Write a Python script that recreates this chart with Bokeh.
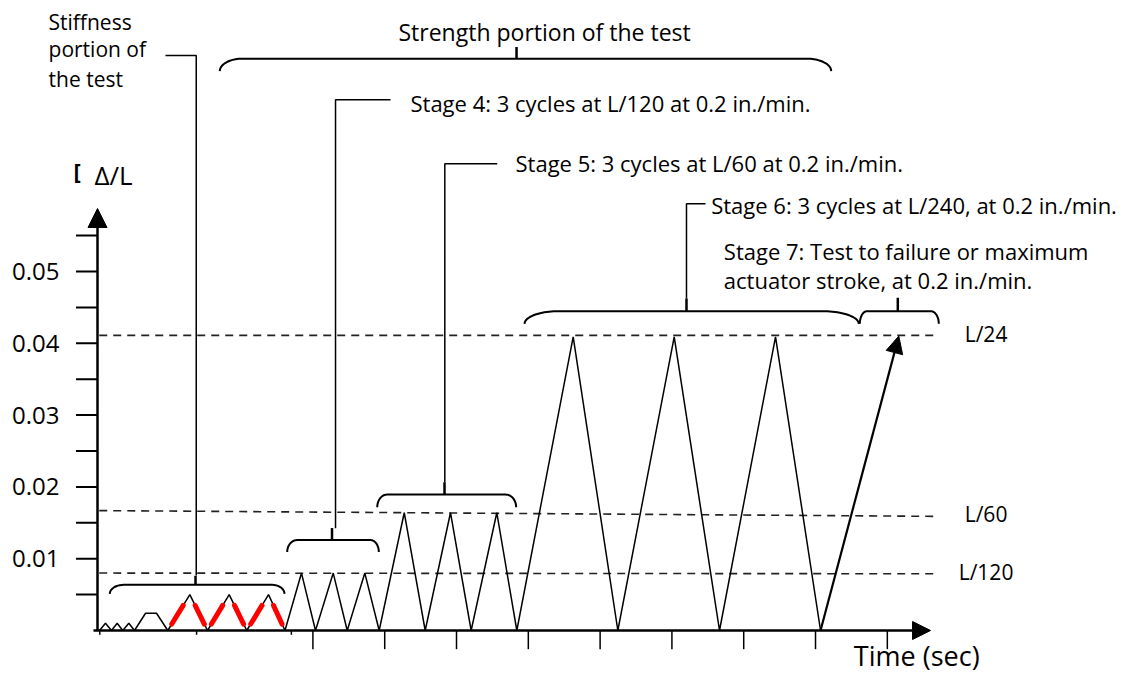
import numpy as np
from bokeh.plotting import figure
from bokeh.models import Range1d, Arrow, NormalHead
from bokeh.core.properties import value
from bokeh.embed import file_html
from bokeh.resources import INLINE

# ---------------- data: load history (time in tick units, drift ratio) -------------
time = [0.028, 0.111, 0.195, 0.274, 0.352, 0.436, 0.515, 0.669, 0.822, 0.979,
        1.286, 1.532, 1.834, 2.079, 2.382, 2.611,
        2.841, 3.036, 3.283, 3.478, 3.723, 3.923,
        4.272, 4.564, 4.916, 5.204, 5.561, 5.840,
        6.625, 7.247, 8.032, 8.663, 9.443, 10.070]
drift = [0, 0.001, 0, 0.001, 0, 0.001, 0, 0.0024, 0.0024, 0,
         0.005, 0, 0.005, 0, 0.005, 0,
         0.008, 0, 0.008, 0, 0.008, 0,
         0.0164, 0, 0.0164, 0, 0.0164, 0,
         0.0409, 0, 0.0409, 0, 0.0409, 0]
stage7_time = [10.070, 11.160]
stage7_drift = [0.0, 0.0410]

# stiffness cycles (highlighted legs) : indices in the arrays above
stiff_first, stiff_last = 9, 15
red_lo, red_hi = 0.0009, 0.0035

# reference drift levels
ref_labels = ["L/24", "L/60", "L/120"]
ref_left = [0.0411, 0.0167, 0.0080]
ref_right = [0.0411, 0.0159, 0.0079]
ref_end = [11.695, 11.643, 11.713]
ref_label_y = [0.04132, 0.01625, 0.00812]

# axis ticks
y_major = [0.01, 0.02, 0.03, 0.04, 0.05]
y_major_labels = ["0.01", "0.02", "0.03", "0.04", "0.05"]
y_minor = [0.005, 0.015, 0.025, 0.035, 0.045, 0.055]
x_major = [3, 4, 5, 6, 7, 8, 9, 10, 11]
x_small = [0.032, 1.38, 2.70]

# braces: start, end, level, centre tick
brace_x0 = [0.171, 2.642, 3.896, 5.947, 10.617, 1.703]
brace_x1 = [2.604, 3.918, 5.831, 10.603, 11.717, 10.219]
brace_y = [0.00636, 0.0126, 0.01894, 0.04447, 0.04447, 0.07963]
brace_xc = [1.365, 3.266, 4.833, 8.203, 11.146, 5.836]
brace_drop = [0.00125, 0.00167, 0.00177, 0.00176, 0.00176, 0.00173]
brace_wl = [0.195, 0.139, 0.139, 0.474, 0.10, 0.306]
brace_wr = [0.171, 0.116, 0.149, 0.51, 0.11, 0.334]
brace_tick = [0.00125, 0.00167, 0.00171, 0.00177, 0.00187, 0.00162]

# leader lines
leader_xs = [[0.947, 1.375, 1.375], [4.081, 3.315, 3.315],
             [5.567, 4.837, 4.837], [8.468, 8.203, 8.203]]
leader_ys = [[0.08008, 0.08008, 0.00766], [0.07391, 0.07391, 0.01425],
             [0.065, 0.065, 0.02065], [0.05943, 0.05943, 0.04624]]

# annotation texts
side_text = ["Stiffness", "portion of", "the test"]
side_x = [-0.682, -0.682, -0.682]
side_y = [0.08472, 0.08092, 0.07674]
note_text = ["Stage 4: 3 cycles at L/120 at 0.2 in./min.",
             "Stage 5: 3 cycles at L/60 at 0.2 in./min.",
             "Stage 6: 3 cycles at L/240, at 0.2 in./min.",
             "Stage 7: Test to failure or maximum",
             "actuator stroke, at 0.2 in./min."]
note_x = [4.359, 5.822, 8.547, 8.723, 8.723]
note_y = [0.07347, 0.06504, 0.05926, 0.05288, 0.04882]
title_text = "Strength portion of the test"
xlabel_text = "Time (sec)"
ylabel_text = "\u0394/L"

FONT = value("Open Sans")

p = figure(width=1128, height=678, output_backend="svg", toolbar_location=None,
           x_range=Range1d(-1.351, 14.359), y_range=Range1d(-0.006685, 0.08774),
           x_axis_location=None, y_axis_location=None, min_border=0,
           background_fill_color="white", border_fill_color="white")
p.outline_line_color = None
p.grid.visible = False

# reference dashed lines
p.segment(x0=[0.024] * 3, y0=ref_left, x1=ref_end, y1=ref_right,
          line_color="#222222", line_width=1.6, line_dash="8 6")
p.text(x=[12.375] * 3, y=ref_label_y, text=ref_labels, text_font=FONT,
       text_font_size=value("21px"), text_align="center",
       text_baseline="middle", text_color="black")

# waveform
p.line(time, drift, line_color="black", line_width=1.5)

# red highlighted parts of the stiffness cycles
red_xs, red_ys = [], []
for i in range(stiff_first, stiff_last):
    xa, ya, xb, yb = time[i], drift[i], time[i + 1], drift[i + 1]
    ta = (red_lo - ya) / (yb - ya)
    tb = (red_hi - ya) / (yb - ya)
    red_xs.append([xa + ta * (xb - xa), xa + tb * (xb - xa)])
    red_ys.append([red_lo, red_hi])
p.multi_line(red_xs, red_ys, line_color="#ff0000", line_width=5, line_cap="round")

# stage 7 arrow
p.add_layout(Arrow(x_start=stage7_time[0], y_start=stage7_drift[0],
                   x_end=stage7_time[1], y_end=stage7_drift[1],
                   line_width=2.2, line_color="black",
                   end=NormalHead(size=17, fill_color="black", line_color="black")))

# axes
p.add_layout(Arrow(x_start=0, y_start=0, x_end=0, y_end=0.05877,
                   line_width=2.5, line_color="black",
                   end=NormalHead(size=19, fill_color="black", line_color="black")))
p.add_layout(Arrow(x_start=-0.056, y_start=0, x_end=11.602, y_end=0,
                   line_width=2.5, line_color="black",
                   end=NormalHead(size=18, fill_color="black", line_color="black")))
yt = y_major + y_minor
p.segment(x0=[-0.30] * len(yt), y0=yt, x1=[0] * len(yt), y1=yt,
          line_color="black", line_width=2)
p.text(x=[-0.529] * len(y_major), y=y_major, text=y_major_labels, text_font=FONT,
       text_font_size=value("24px"), text_align="right", text_baseline="middle",
       text_color="black")
p.segment(x0=x_major, y0=[0] * len(x_major), x1=x_major, y1=[-0.0026] * len(x_major),
          line_color="black", line_width=1.5)
p.segment(x0=x_small, y0=[0] * len(x_small), x1=x_small, y1=[-0.0006] * len(x_small),
          line_color="black", line_width=1.5)

# braces
bxs, bys = [], []
t = np.linspace(0, np.pi / 2, 12)
for x0, x1, y, d, wl, wr in zip(brace_x0, brace_x1, brace_y, brace_drop, brace_wl, brace_wr):
    lx = x0 + wl - wl * np.cos(t)
    ly = y - d + d * np.sin(t)
    rx = x1 - wr + wr * np.cos(t[::-1])
    ry = y - d + d * np.sin(t[::-1])
    bxs.append(list(lx) + list(rx))
    bys.append(list(ly) + list(ry))
p.multi_line(bxs, bys, line_color="black", line_width=2)
p.segment(x0=brace_xc, y0=brace_y, x1=brace_xc,
          y1=[y + h for y, h in zip(brace_y, brace_tick)],
          line_color="black", line_width=2.5)

# leaders
p.multi_line(leader_xs, leader_ys, line_color="black", line_width=1.5)

# texts
p.text(x=side_x, y=side_y, text=side_text, text_font=FONT,
       text_font_size=value("21px"), text_align="left",
       text_baseline="middle", text_color="black")
p.text(x=note_x, y=note_y, text=note_text, text_font=FONT,
       text_font_size=value("22px"), text_align="left",
       text_baseline="middle", text_color="black")
p.text(x=[4.192], y=[0.08329], text=[title_text], text_font=FONT,
       text_font_size=value("23px"), text_align="left",
       text_baseline="middle", text_color="black")
p.text(x=[10.534], y=[-0.00348], text=[xlabel_text], text_font=FONT,
       text_font_size=value("27px"), text_align="left",
       text_baseline="middle", text_color="black")
p.text(x=[-0.042], y=[0.06348], text=[ylabel_text], text_font=FONT,
       text_font_size=value("26px"), text_align="left",
       text_baseline="middle", text_color="black")
p.text(x=[-0.334], y=[0.0642], text=["["], text_font=FONT,
       text_font_size=value("22px"), text_font_style="bold", text_align="left",
       text_baseline="middle", text_color="black")

open("out.html", "w").write(file_html(p, INLINE))
